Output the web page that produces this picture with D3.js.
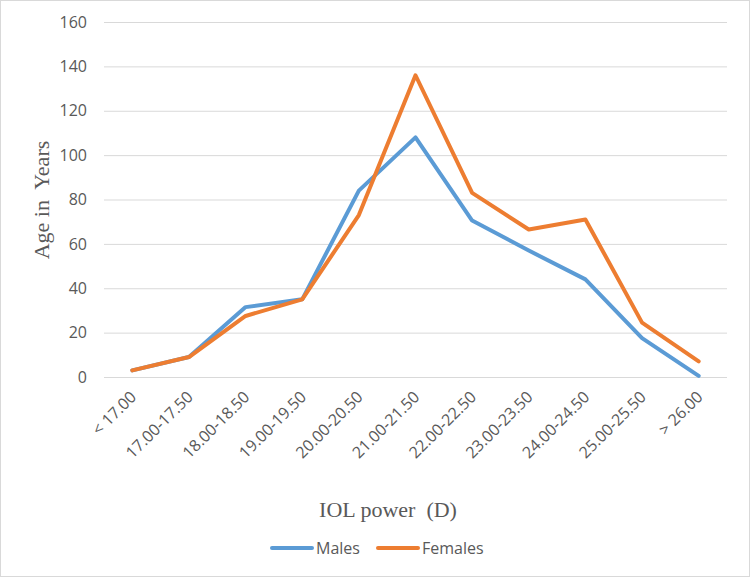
<!DOCTYPE html>
<html>
<head>
<meta charset="utf-8">
<script src="https://cdn.jsdelivr.net/npm/d3@7/dist/d3.min.js"></script>
<style>
  body { margin: 0; background: #fff; }
</style>
</head>
<body>
<div class="chart"></div>
<script>
var categories = ["< 17.00", "17.00-17.50", "18.00-18.50", "19.00-19.50", "20.00-20.50",
    "21.00-21.50", "22.00-22.50", "23.00-23.50", "24.00-24.50", "25.00-25.50", "> 26.00"];
var males = [3, 9, 31.5, 35, 84, 108, 70.5, 57, 44, 17.5, 0.5];
var females = [3, 9, 27.5, 35, 73, 136, 83, 66.5, 71, 24.5, 7];
var yTicks = [0, 20, 40, 60, 80, 100, 120, 140, 160];

var width = 750;
var height = 578;
var padding = { left: 104, right: 23, top: 22, bottom: 201 };

var svg = d3.select(".chart")
    .append("svg")
    .attr("width", width)
    .attr("height", height);

// 外框
svg.append("rect")
    .attr("x", 0.5).attr("y", 0.5)
    .attr("width", width - 1).attr("height", height - 2)
    .attr("fill", "#fff")
    .attr("stroke", "#d9d9d9");

var x = d3.scaleBand()
    .domain(categories)
    .range([padding.left, width - padding.right]);

var y = d3.scaleLinear()
    .domain([0, 160])
    .range([height - padding.bottom, padding.top]);

// 格線
svg.append("g")
    .selectAll("line")
    .data(yTicks)
    .enter()
    .append("line")
    .attr("x1", padding.left)
    .attr("x2", width - padding.right)
    .attr("y1", function (d) { return y(d) + 0.5; })
    .attr("y2", function (d) { return y(d) + 0.5; })
    .attr("stroke", "#d9d9d9")
    .attr("stroke-width", 1);

// y 軸
var yAxis = svg.append("g")
    .attr("transform", "translate(" + (padding.left - 17) + ",0)")
    .call(d3.axisLeft(y).tickValues(yTicks).tickSize(0).tickPadding(0));
yAxis.select(".domain").remove();
yAxis.selectAll("text")
    .attr("fill", "#595959")
    .style("font-family", "'Open Sans', 'Liberation Sans', sans-serif")
    .style("font-size", "16px");

// x 軸
var xAxis = svg.append("g")
    .attr("transform", "translate(0," + (height - padding.bottom) + ")")
    .call(d3.axisBottom(x).tickSize(0).tickPadding(0));
xAxis.select(".domain").remove();
xAxis.selectAll("text")
    .attr("fill", "#595959")
    .style("font-family", "'Open Sans', 'Liberation Sans', sans-serif")
    .style("font-size", "16px")
    .attr("text-anchor", "end")
    .attr("dy", "0.35em")
    .attr("transform", "translate(1,17) rotate(-45)");

// 線
var line = d3.line()
    .x(function (d, i) { return x(categories[i]) + x.bandwidth() / 2; })
    .y(function (d) { return y(d); });

var series = [
    { name: "Males", values: males, color: "#5b9bd5" },
    { name: "Females", values: females, color: "#ed7d31" }
];

svg.append("g")
    .selectAll("path")
    .data(series)
    .enter()
    .append("path")
    .attr("d", function (d) { return line(d.values); })
    .attr("fill", "none")
    .attr("stroke", function (d) { return d.color; })
    .attr("stroke-width", 4)
    .attr("stroke-linejoin", "round")
    .attr("stroke-linecap", "round");

// 軸標題
svg.append("text")
    .attr("transform", "translate(49,200) rotate(-90)")
    .attr("text-anchor", "middle")
    .attr("fill", "#595959")
    .style("font-family", "'Liberation Serif', serif")
    .style("font-size", "22px")
    .style("white-space", "pre")
    .text("Age in  Years");

svg.append("text")
    .attr("x", 388)
    .attr("y", 517)
    .attr("text-anchor", "middle")
    .attr("fill", "#595959")
    .style("font-family", "'Liberation Serif', serif")
    .style("font-size", "22px")
    .style("white-space", "pre")
    .text("IOL power  (D)");

// 圖例
var legend = svg.append("g")
    .selectAll("g")
    .data(series)
    .enter()
    .append("g")
    .attr("transform", function (d, i) {
        return "translate(" + (272 + i * 106) + ",548)";
    });
legend.append("line")
    .attr("x1", 0).attr("x2", 40)
    .attr("y1", 0).attr("y2", 0)
    .attr("stroke", function (d) { return d.color; })
    .attr("stroke-width", 4)
    .attr("stroke-linecap", "round");
legend.append("text")
    .attr("x", 44)
    .attr("y", 0)
    .attr("dy", "0.35em")
    .attr("fill", "#595959")
    .style("font-family", "'Open Sans', 'Liberation Sans', sans-serif")
    .style("font-size", "16px")
    .text(function (d) { return d.name; });
</script>
</body>
</html>
